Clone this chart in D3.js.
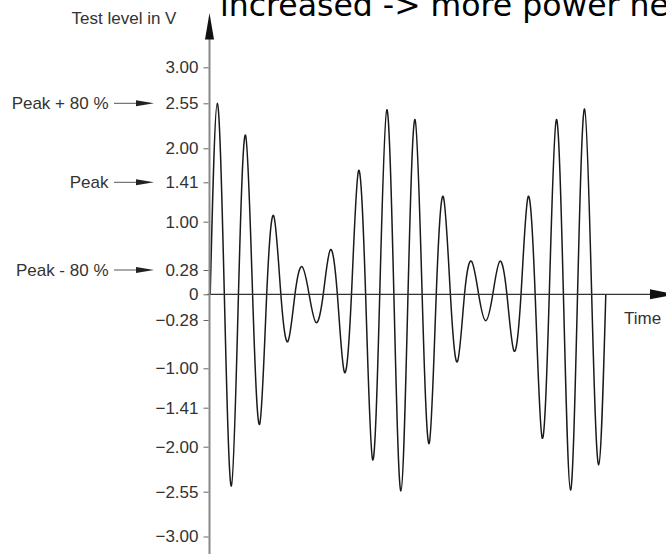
<!DOCTYPE html>
<html>
<head>
<meta charset="utf-8">
<script src="https://d3js.org/d3.v7.min.js"></script>
<style>
  body { margin: 0; background: #fff; }
  svg text { font-family: "Liberation Sans", Arial, sans-serif; }
</style>
</head>
<body>
<svg id="chart" width="666" height="554"></svg>
<script>
// values (volts)
const cycles = d3.range(14);
const peaks = [2.55, 2.16, 1.06, 0.33, 0.58, 1.61, 2.47, 2.35, 1.26, 0.41, 0.41, 1.26, 2.35, 2.48];
const troughs = [-2.48, -1.66, -0.60, -0.32, -1.04, -2.16, -2.54, -1.95, -0.90, -0.29, -0.74, -1.87, -2.53, -2.22];
const tickValues = [3, 2.55, 2, 1.41, 1, 0.28, 0, -0.28, -1, -1.41, -2, -2.55, -3];
const markerLabels = ["Peak + 80 %", "Peak", "Peak - 80 %"];
const markerValues = [2.55, 1.41, 0.28];
const yTitle = "Test level in V";
const xTitle = "Time";
const headline = "increased -> more power ne";

const svg = d3.select("#chart");
const axisX = 209.5;

// the drawing's tick spacing is not quite even, so the scale is piecewise
const y = d3.scaleLinear()
    .domain(d3.sort(tickValues))
    .range([536.5, 491.7, 446.7, 407.7, 368.3, 320, 294.3, 270, 221.7, 182.3, 148.3, 103.3, 67.3]);

const x = d3.scaleLinear()
    .domain([0, cycles.length])
    .range([210.2, 605.8]);

// slide headline that sits behind the figure, cut by the frame
svg.append("text")
    .attr("x", 220)
    .attr("y", 16)
    .style("font-family", "'DejaVu Sans', sans-serif")
    .attr("font-size", 31.5)
    .attr("fill", "#000")
    .text(headline);

// waveform: zero, peak, zero, trough for each cycle
const wave = [];
cycles.forEach(k => {
    wave.push([k, 0], [k + 0.25, peaks[k]], [k + 0.5, 0], [k + 0.75, troughs[k]]);
});
wave.push([cycles.length, 0]);

const line = d3.line()
    .x(d => x(d[0]))
    .y(d => y(d[1]))
    .curve(d3.curveNatural);

svg.append("path")
    .datum(wave)
    .attr("d", line)
    .attr("fill", "none")
    .attr("stroke", "#1a1a1a")
    .attr("stroke-width", 1.5);

// time axis with arrow
svg.append("line")
    .attr("x1", axisX - 2).attr("x2", 652)
    .attr("y1", y(0)).attr("y2", y(0))
    .attr("stroke", "#333")
    .attr("stroke-width", 1.3);
svg.append("path")
    .attr("d", `M676,${y(0)} L650,${y(0) - 5} L650,${y(0) + 5} Z`)
    .attr("fill", "#111");

// level axis with arrow
svg.append("line")
    .attr("x1", axisX).attr("x2", axisX)
    .attr("y1", 38).attr("y2", 554)
    .attr("stroke", "#888")
    .attr("stroke-width", 2);
svg.append("path")
    .attr("d", `M${axisX},13 L${axisX - 4.5},39.5 L${axisX + 4.5},39.5 Z`)
    .attr("fill", "#111");

const fmt = d3.format(".2f");
svg.append("g")
    .attr("transform", `translate(${axisX - 1},0)`)
    .call(d3.axisLeft(y)
        .tickValues(tickValues)
        .tickFormat(d => d === 0 ? "0" : fmt(d))
        .tickSize(5)
        .tickPadding(5))
    .call(g => g.select(".domain").remove())
    .call(g => g.selectAll(".tick line").attr("stroke", "#666"))
    .call(g => g.selectAll(".tick text")
        .attr("font-size", 17)
        .attr("font-family", null)
        .attr("fill", "#333"));

// Peak markers pointing at their tick labels
const markers = svg.append("g")
    .selectAll("g")
    .data(markerLabels)
    .join("g")
    .attr("transform", (d, i) => `translate(0,${y(markerValues[i])})`);

markers.append("text")
    .attr("x", 108.5)
    .attr("dy", "0.35em")
    .attr("text-anchor", "end")
    .attr("font-size", 17)
    .attr("fill", "#333")
    .text(d => d);

markers.append("line")
    .attr("x1", 114).attr("x2", 140)
    .attr("stroke", "#555")
    .attr("stroke-width", 1);

markers.append("path")
    .attr("d", "M154,0 L136,-3 L136,3 Z")
    .attr("fill", "#222");

// axis titles
svg.append("text")
    .attr("x", 124)
    .attr("y", 24)
    .attr("text-anchor", "middle")
    .attr("font-size", 17)
    .attr("fill", "#333")
    .text(yTitle);

svg.append("text")
    .attr("x", 624)
    .attr("y", 323.5)
    .attr("font-size", 17)
    .attr("fill", "#333")
    .text(xTitle);
</script>
</body>
</html>
